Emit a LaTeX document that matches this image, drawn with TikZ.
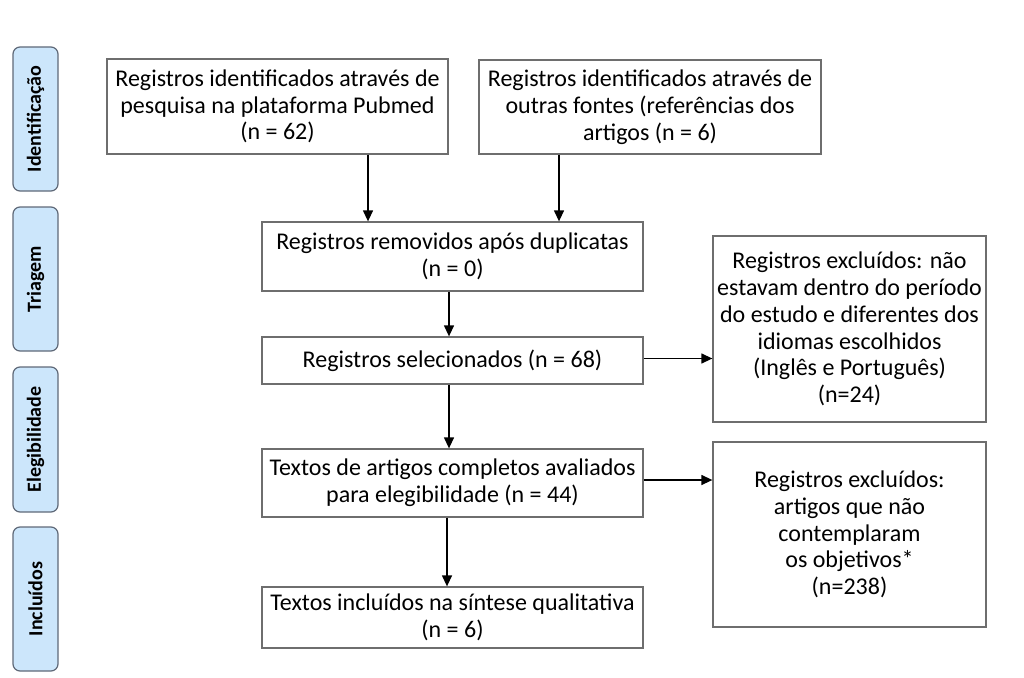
\documentclass[tikz,border=0pt]{standalone}
\usepackage{fontspec}
\setmainfont{Carlito}
\usepackage{tikz}
\usetikzlibrary{arrows.meta,positioning,calc}
\definecolor{azulFase}{RGB}{204,230,251}
\definecolor{bordaFase}{RGB}{95,105,120}
\definecolor{bordaCaixa}{RGB}{110,110,110}

\begin{document}
\begin{tikzpicture}[x=1pt,y=-1pt,
  caixa/.style={rectangle,draw=bordaCaixa,line width=1.3pt,align=center,
                inner sep=2pt,font=\fontsize{24}{26.8}\selectfont},
  fase/.style={rectangle,rounded corners=7pt,draw=bordaFase,line width=1.2pt,
               fill=azulFase,rotate=90,minimum width=144pt,minimum height=45pt,
               font=\bfseries\fontsize{20}{22}\selectfont},
  seta/.style={-{Triangle[length=11pt,width=10pt]},line width=1.3pt,black}]

  \useasboundingbox (0,0) rectangle (1024,677);

  % fases
  \node[fase] (fId)  at (35.5,119)   {Identificação};
  \node[fase] (fTr)  at (35.5,279)   {Triagem};
  \node[fase,minimum width=145pt] (fEl) at (35.5,439.5) {Elegibilidade};
  \node[fase] (fIn)  at (35.5,599)   {Incluídos};

  % caixas centrais
  \node[caixa,minimum width=341pt,minimum height=95pt] (pub) at (277.5,106.5)
    {Registros identificados através de\\pesquisa na plataforma Pubmed\\(n = 62)};
  \node[caixa,minimum width=342pt,minimum height=94pt] (outras) at (650,107)
    {Registros identificados através de\\outras fontes (referências dos\\artigos (n = 6)};
  \node[caixa,minimum width=381pt,minimum height=69pt] (dup) at (452.5,256.5)
    {Registros removidos após duplicatas\\(n = 0)};
  \node[caixa,minimum width=381pt,minimum height=47pt] (sel) at (452.5,360.5)
    {Registros selecionados (n = 68)};
  \node[caixa,minimum width=381pt,minimum height=68pt] (elig) at (452.5,483)
    {Textos de artigos completos avaliados\\para elegibilidade (n = 44)};
  \node[caixa,minimum width=381pt,minimum height=61pt] (incl) at (452.5,617.5)
    {Textos incluídos na síntese qualitativa\\(n = 6)};

  % excluidos
  \node[caixa,minimum width=273pt,minimum height=186pt] (exc1) at (849.5,329)
    {Registros excluídos: não\\estavam dentro do período\\do estudo e diferentes dos\\idiomas escolhidos\\(Inglês e Português)\\(n=24)};
  \node[caixa,minimum width=273pt,minimum height=185pt] (exc2) at (849.5,534.5)
    {Registros excluídos:\\artigos que não\\contemplaram\\os objetivos*\\(n=238)};

  \draw[seta] ([xshift=-84.5pt]dup.north |- pub.south) -- ([xshift=-84.5pt]dup.north);
  \draw[seta] ([xshift=106.5pt]dup.north |- outras.south) -- ([xshift=106.5pt]dup.north);
  \draw[seta] ([xshift=-3.5pt]dup.south) -- ([xshift=-3.5pt]sel.north);
  \draw[seta] ([xshift=-3.5pt]sel.south) -- ([xshift=-3.5pt]elig.north);
  \draw[seta] ([xshift=-5.5pt]elig.south) -- ([xshift=-5.5pt]incl.north);
  \draw[seta] ([yshift=2pt]sel.east) -- ([yshift=2pt]sel.east -| exc1.west);
  \draw[seta] ([yshift=3pt]elig.east) -- ([yshift=3pt]elig.east -| exc2.west);
\end{tikzpicture}
\end{document}
